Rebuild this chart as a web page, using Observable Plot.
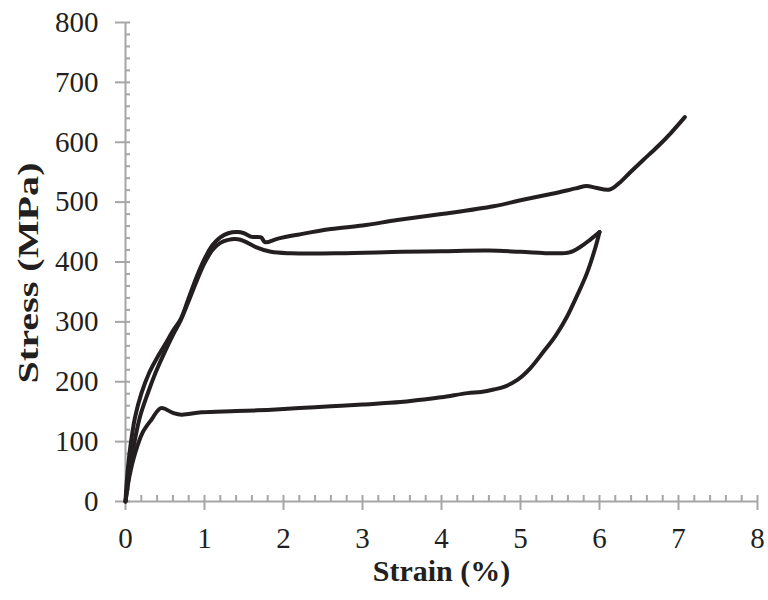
<!DOCTYPE html>
<html><head><meta charset="utf-8">
<script src="https://cdn.jsdelivr.net/npm/d3@7"></script>
<script src="https://cdn.jsdelivr.net/npm/@observablehq/plot@0.6"></script>
<style>body{margin:0;background:#fff}</style>
</head><body><div id="chart"></div>
<script>
// Curve A: loading to fracture
const strainA = [0,0.02,0.06,0.12,0.2,0.3,0.4,0.5,0.6,0.7,0.8,0.9,1.0,1.1,1.2,1.3,1.42,1.5,1.6,1.72,1.74,1.77,1.93,2.2,2.6,3.0,3.44,4.0,4.66,5.0,5.4,5.7,5.84,5.95,6.13,6.25,6.39,6.55,6.73,6.9,7.08];
const stressA = [0,40,90,140,180,215,240,262,285,305,340,375,405,428,441,448,450,448,442,441,437,433,439,446,455,461,470,480,493,503,514,523,527,524,521,532,550,570,592,615,642];
// Curve B: loading of the cycle
const strainB = [0,0.04,0.1,0.18,0.28,0.38,0.48,0.6,0.7,0.8,0.9,1.0,1.1,1.2,1.3,1.42,1.5,1.65,1.84,2.1,2.7,3.5,4.0,4.6,5.0,5.42,5.62,5.76,5.88,6.0];
const stressB = [0,40,90,140,180,215,245,278,303,335,368,398,420,432,437,438,435,425,417,414.5,414.5,417,418,419,417,414.5,416,425.5,437,450];
// Curve C: unloading of the cycle
const strainC = [6.0,5.95,5.84,5.72,5.59,5.45,5.29,5.12,4.96,4.8,4.66,4.5,4.33,4.0,3.74,3.48,3.0,2.6,2.2,1.8,1.4,0.96,0.71,0.6,0.45,0.33,0.22,0.12,0.05,0];
const stressC = [450,425,381,345,309,278,250,222,203,192,187,183,181,174,170,166,162,159,156,153,151,149,145,148,156,137,116,80,42,0];

const xTicks = [0,1,2,3,4,5,6,7,8];
const yTicks = [0,100,200,300,400,500,600,700,800];
const xMinor = d3.range(0, 8.001, 0.2).filter(v => Math.abs(v - Math.round(v)) > 1e-6);
const yMinor = d3.range(0, 800.001, 20).filter(v => v % 100 !== 0);

const rows = [
  ...strainA.map((s,i)=>({series:"A", strain:s, stress:stressA[i]})),
  ...strainB.map((s,i)=>({series:"B", strain:s, stress:stressB[i]})),
  ...strainC.map((s,i)=>({series:"C", strain:s, stress:stressC[i]}))
];

const gray = "#a6a6a6";
const ink = "#231f20";

const chart = Plot.plot({
  width: 768,
  height: 600,
  marginLeft: 125,
  marginRight: 11,
  marginTop: 22,
  marginBottom: 99,
  x: {domain: [0, 8]},
  y: {domain: [0, 800]},
  style: {fontFamily: "'Liberation Serif', 'Times New Roman', serif", color: ink, background: "white"},
  marks: [
    Plot.ruleX([0], {stroke: gray, strokeWidth: 2}),
    Plot.ruleY([0], {stroke: gray, strokeWidth: 2}),
    Plot.axisY({ticks: yTicks, tickSize: 10, tickPadding: 17, fontSize: 29, stroke: gray, strokeWidth: 2, label: null, tickFormat: d => String(d)}),
    Plot.axisY({ticks: yTicks, tickSize: 5, dx: 5, stroke: gray, strokeWidth: 2, fill: "none", label: null}),
    Plot.axisY({ticks: yMinor, tickSize: 5, dx: 5, stroke: gray, strokeWidth: 2, fill: "none", label: null}),
    Plot.axisX({ticks: xTicks, tickSize: 9, tickPadding: 17, fontSize: 29, stroke: gray, strokeWidth: 2, label: null, tickFormat: d => String(d)}),
    Plot.axisX({ticks: xTicks, tickSize: 6, dy: -6, stroke: gray, strokeWidth: 2, fill: "none", label: null}),
    Plot.axisX({ticks: xMinor, tickSize: 6, dy: -6, stroke: gray, strokeWidth: 2, fill: "none", label: null}),
    Plot.line(rows, {x: "strain", y: "stress", z: "series", stroke: ink, strokeWidth: 4, curve: "catmull-rom", strokeLinejoin: "round", strokeLinecap: "round"}),
    Plot.text(["Strain (%)"], {frameAnchor: "bottom", dy: 79, fontSize: 30, fontWeight: "bold", fill: ink}),
    Plot.text(["Stress (MPa)"], {frameAnchor: "left", textAnchor: "middle", rotate: -90, dx: -97, dy: 11, fontSize: 30, fontWeight: "bold", fill: ink})
  ]
});
chart.querySelectorAll("text").forEach(t => {
  if (t.textContent === "Stress (MPa)") {
    t.setAttribute("textLength", "221");
    t.setAttribute("lengthAdjust", "spacingAndGlyphs");
  }
});
document.getElementById("chart").appendChild(chart);
</script>
</body></html>
